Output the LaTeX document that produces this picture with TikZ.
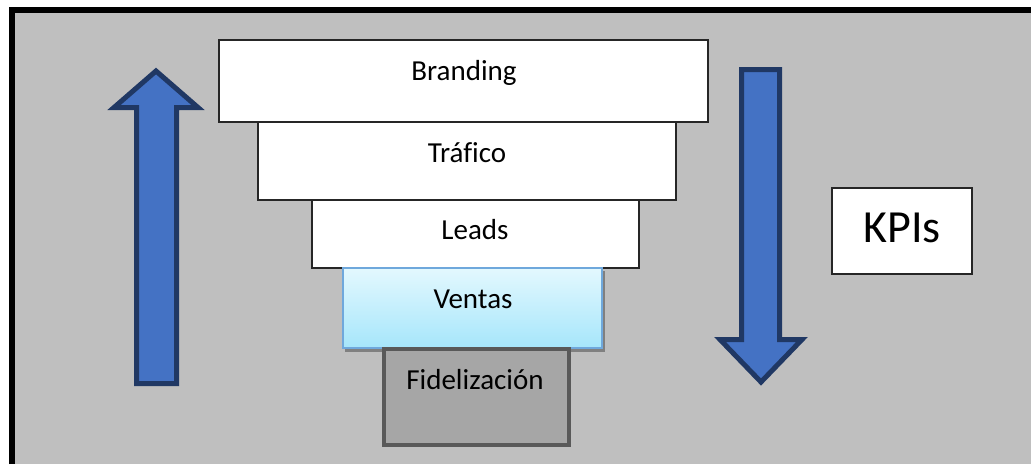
\documentclass[tikz,border=0pt]{standalone}
\usepackage{fontspec}
\setmainfont{Carlito}[Ligatures=CommonOff]
\definecolor{bggray}{HTML}{BFBFBF}
\definecolor{arrowfill}{HTML}{4472C4}
\definecolor{arrowline}{HTML}{203864}
\definecolor{ventastop}{HTML}{E3F8FE}
\definecolor{ventasbot}{HTML}{A6E6FB}
\definecolor{ventasline}{HTML}{6FA8DC}
\definecolor{fidfill}{HTML}{A6A6A6}
\definecolor{fidline}{HTML}{595959}
\begin{document}
\begin{tikzpicture}[x=1pt,y=-1pt,
  box/.style={draw=black!85, line width=1.3pt, fill=white, inner sep=0pt, outer sep=0pt, anchor=north west},
  lbl/.style={font=\fontsize{29}{32}\selectfont, anchor=base, inner sep=0pt},
  blockarrow/.style={fill=arrowfill, draw=arrowline, line width=5pt, line join=miter}]
\useasboundingbox (0,0) rectangle (1031,464);
\fill[bggray] (9,7) rectangle (1031,464);
\draw[line width=6pt] (12,464) -- (12,10) -- (1031,10);

% up arrow
\draw[blockarrow] (136.5,383.5) -- (136.5,107.5) -- (114,107.5) -- (156,71) -- (198,107.5) -- (176.5,107.5) -- (176.5,383.5) -- cycle;
% down arrow
\draw[blockarrow] (741.5,69.5) -- (779.5,69.5) -- (779.5,339.5) -- (802,339.5) -- (761,382) -- (720,339.5) -- (741.5,339.5) -- cycle;

% funnel
\node[box, minimum width=489pt, minimum height=82pt] (branding) at (219,40) {};
\node[lbl] (brandingt) at (464,80) {Branding};
\node[box, minimum width=418pt, minimum height=78pt] (trafico) at (258,122) {};
\node[lbl] (traficot) at (467,162) {Tráfico};
\node[box, minimum width=327pt, minimum height=68pt] (leads) at (312,200) {};
\node[lbl] (leadst) at (475,239) {Leads};
\fill[black!50] (345,271) rectangle (605,352);
\node[box, draw=ventasline, top color=ventastop, bottom color=ventasbot, minimum width=259pt, minimum height=80pt] (ventas) at (343,268) {};
\node[lbl] (ventast) at (473,308) {Ventas};
\node[box, draw=fidline, fill=fidfill, line width=4pt, minimum width=185pt, minimum height=96pt] (fidel) at (384,349) {};
\node[lbl] (fidelt) at (475,389) {Fidelización};

% KPIs
\node[box, minimum width=140pt, minimum height=86pt] (kpis) at (832,188) {};
\node[lbl, font=\fontsize{46}{50}\selectfont] (kpist) at (902,242) {KPIs};
\end{tikzpicture}
\end{document}
